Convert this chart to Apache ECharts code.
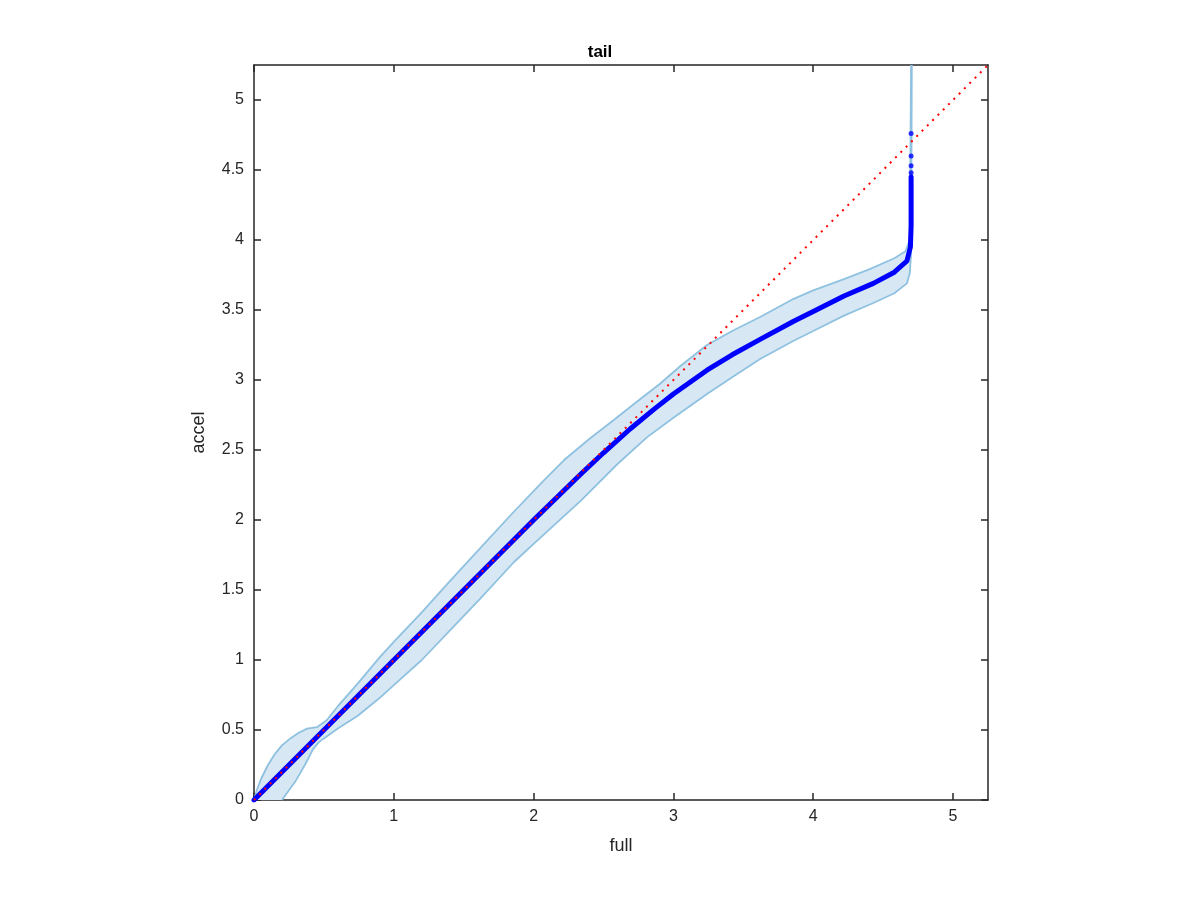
<!DOCTYPE html>
<html>
<head>
<meta charset="utf-8">
<script src="https://cdn.jsdelivr.net/npm/echarts@6/dist/echarts.min.js"></script>
<style>html,body{margin:0;padding:0;background:#fff}#c{width:1200px;height:900px}</style>
</head>
<body>
<div id="c"></div>
<script>
const xTicks = [0, 1, 2, 3, 4, 5];
const yTicks = [0, 0.5, 1, 1.5, 2, 2.5, 3, 3.5, 4, 4.5, 5];
const axisMax = 5.25;

const upperBand = [[0,0],[0.02,0.07],[0.05,0.15],[0.1,0.25],[0.15,0.33],[0.2,0.39],[0.26,0.44],[0.32,0.48],[0.38,0.51],[0.45,0.52],[0.52,0.57],[0.6,0.67],[0.74,0.83],[0.9,1.02],[1.0,1.13],[1.2,1.34],[1.38,1.54],[1.6,1.78],[1.85,2.05],[2.07,2.28],[2.22,2.43],[2.4,2.58],[2.58,2.72],[2.77,2.87],[2.9,2.97],[3.05,3.1],[3.24,3.25],[3.42,3.35],[3.62,3.45],[3.86,3.58],[4.0,3.64],[4.22,3.72],[4.4,3.79],[4.58,3.87],[4.66,3.92],[4.69,4.0],[4.70,5.25]];
const lowerBand = [[0.2,0],[0.25,0.07],[0.3,0.14],[0.33,0.19],[0.38,0.28],[0.42,0.36],[0.46,0.41],[0.5,0.44],[0.6,0.51],[0.74,0.6],[0.9,0.73],[1.0,0.82],[1.2,1.0],[1.4,1.21],[1.62,1.44],[1.86,1.7],[2.0,1.83],[2.34,2.14],[2.6,2.4],[2.81,2.59],[3.0,2.73],[3.24,2.9],[3.45,3.04],[3.62,3.15],[3.86,3.28],[4.0,3.35],[4.22,3.46],[4.43,3.55],[4.58,3.62],[4.67,3.69],[4.69,3.76],[4.70,3.9],[4.705,5.25]];
const quantileLine = [[0,0],[0.5,0.5],[1,1],[1.5,1.5],[2,2],[2.34,2.33],[2.5,2.48],[2.69,2.65],[2.86,2.79],[3.0,2.9],[3.24,3.07],[3.42,3.18],[3.62,3.29],[3.86,3.42],[4.0,3.49],[4.22,3.6],[4.43,3.69],[4.58,3.77],[4.67,3.85],[4.695,3.95],[4.70,4.1],[4.70,4.45]];
const outlierPoints = [[4.70,4.48],[4.70,4.53],[4.70,4.6],[4.70,4.76]];
const refLine = [[0,0],[5.25,5.25]];

const FONT = 'Liberation Sans, Arial, Helvetica, sans-serif';
const AX = '#262626';
const chart = echarts.init(document.getElementById('c'));

function xAxisDef(pos, showLabel) {
  return {
    type: 'value', position: pos, min: 0, max: axisMax, interval: 1,
    axisLine: {show: true, onZero: false, lineStyle: {color: AX, width: 1.5}},
    axisTick: {show: true, inside: true, length: 7, lineStyle: {color: AX, width: 1.5},
      customValues: xTicks},
    axisLabel: {show: showLabel, color: AX, fontSize: 16, fontFamily: FONT, margin: 9,
      customValues: xTicks, formatter: v => String(v)},
    splitLine: {show: false},
    name: showLabel ? 'full' : '', nameLocation: 'middle', nameGap: 37,
    nameTextStyle: {color: AX, fontSize: 18, fontFamily: FONT}
  };
}
function yAxisDef(pos, showLabel) {
  return {
    type: 'value', position: pos, min: 0, max: axisMax, interval: 0.5,
    axisLine: {show: true, onZero: false, lineStyle: {color: AX, width: 1.5}},
    axisTick: {show: true, inside: true, length: 7, lineStyle: {color: AX, width: 1.5},
      customValues: yTicks},
    axisLabel: {show: showLabel, color: AX, fontSize: 16, fontFamily: FONT, margin: 10,
      customValues: yTicks, formatter: v => String(v)},
    splitLine: {show: false},
    name: showLabel ? 'accel' : '', nameLocation: 'middle', nameGap: 46,
    nameTextStyle: {color: AX, fontSize: 18, fontFamily: FONT}
  };
}

chart.setOption({
  animation: false,
  backgroundColor: '#fff',
  title: {text: 'tail', left: 'center', top: 39,
    textStyle: {color: '#000', fontSize: 17, fontWeight: 'bold', fontFamily: FONT}},
  grid: {left: 254, top: 65, width: 734, height: 735},
  xAxis: [xAxisDef('bottom', true), xAxisDef('top', false)],
  yAxis: [yAxisDef('left', true), yAxisDef('right', false)],
  series: [
    {
      type: 'custom', xAxisIndex: 0, yAxisIndex: 0, silent: true,
      data: [[0, 0]],
      renderItem: function (params, api) {
        const pts = upperBand.map(p => api.coord(p))
          .concat(lowerBand.slice().reverse().map(p => api.coord(p)));
        return {type: 'polygon', shape: {points: pts},
          style: {fill: '#d7e8f4', stroke: null}};
      },
      z: 1
    },
    {type: 'line', data: upperBand, showSymbol: false, silent: true,
      lineStyle: {color: '#8fc1e0', width: 1.8}, z: 2},
    {type: 'line', data: lowerBand, showSymbol: false, silent: true,
      lineStyle: {color: '#8fc1e0', width: 1.8}, z: 2},
    {type: 'line', data: quantileLine, showSymbol: false, silent: true,
      lineStyle: {color: '#0000ff', width: 5, cap: 'round', join: 'round'}, z: 3},
    {type: 'scatter', data: outlierPoints, symbol: 'circle', symbolSize: 5, silent: true,
      itemStyle: {color: '#0000ff'}, z: 3},
    {type: 'line', data: refLine, showSymbol: false, silent: true,
      lineStyle: {color: '#ff0000', width: 2, type: [2, 5.5]}, z: 4}
  ]
});
</script>
</body>
</html>
